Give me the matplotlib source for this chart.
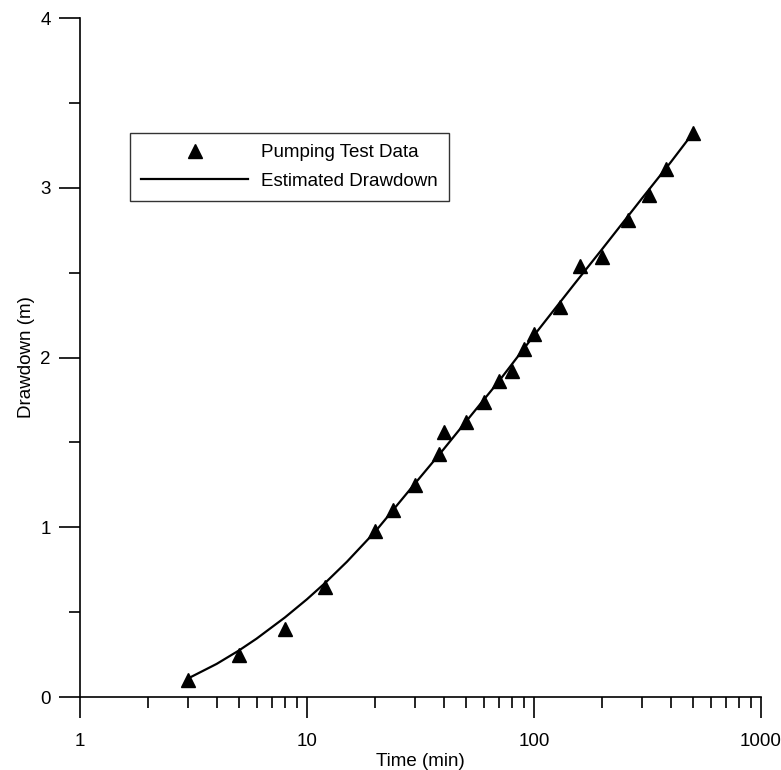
import matplotlib.pyplot as plt
from matplotlib.ticker import LogLocator, NullFormatter, FixedLocator
import numpy as np

plt.rcParams['font.family'] = ['Liberation Sans', 'DejaVu Sans']

# pumping test observations
time_obs = [3, 5, 8, 12, 20, 24, 30, 38, 40, 50, 60, 70, 80, 90, 100,
            130, 160, 200, 260, 320, 380, 500]
drawdown_obs = [0.10, 0.25, 0.40, 0.65, 0.98, 1.10, 1.25, 1.43, 1.56, 1.62,
                1.74, 1.86, 1.92, 2.05, 2.14, 2.30, 2.54, 2.59, 2.81, 2.96,
                3.11, 3.32]

# estimated drawdown curve
time_fit = [3, 4, 5, 6, 8, 10, 12, 15, 20, 30, 40, 50, 70, 100, 150,
            200, 300, 400, 500]
drawdown_fit = [0.11, 0.195, 0.273, 0.344, 0.469, 0.576, 0.671, 0.797, 0.975,
                1.26, 1.46, 1.62, 1.86, 2.13, 2.43, 2.64, 2.94, 3.15, 3.32]

fig = plt.figure(figsize=(7.81, 7.70), dpi=100)
ax = fig.add_axes([0.1024, 0.0948, 0.8720, 0.8818])

ax.plot(time_fit, drawdown_fit, color='black', lw=1.6, label='Estimated Drawdown')
ax.plot(time_obs, drawdown_obs, linestyle='none', marker='^', ms=9.5,
        color='black', label='Pumping Test Data')

ax.set_xscale('log')
ax.set_xlim(1, 1000)
ax.set_ylim(0, 4)

ax.spines['top'].set_visible(False)
ax.spines['right'].set_visible(False)
for s in ['left', 'bottom']:
    ax.spines[s].set_linewidth(1.2)

ax.xaxis.set_major_locator(FixedLocator([1, 10, 100, 1000]))
ax.set_xticklabels(['1', '10', '100', '1000'])
ax.xaxis.set_minor_locator(LogLocator(base=10, subs=np.arange(2, 10)))
ax.xaxis.set_minor_formatter(NullFormatter())
ax.set_yticks([0, 1, 2, 3, 4])
ax.set_yticks([0.5, 1.5, 2.5, 3.5], minor=True)

ax.tick_params(which='major', direction='out', length=15, width=1.2,
               labelsize=13.5)
ax.tick_params(axis='x', which='major', pad=11)
ax.tick_params(axis='y', which='major', pad=6)
ax.tick_params(which='minor', direction='out', length=8, width=1.2)

ax.set_xlabel('Time (min)', fontsize=13.5, labelpad=2)
ax.set_ylabel('Drawdown (m)', fontsize=13.5, labelpad=4)

handles, labels = ax.get_legend_handles_labels()
leg = ax.legend(handles[::-1], labels[::-1], loc='upper left',
                bbox_to_anchor=(130 / 781, (770 - 133) / 770),
                bbox_transform=fig.transFigure, borderaxespad=0,
                fancybox=False, fontsize=13.5, handlelength=5.7,
                handletextpad=0.7, labelspacing=0.6, borderpad=0.6,
                numpoints=1)
leg.get_frame().set_edgecolor('black')
leg.get_frame().set_linewidth(1.0)

plt.savefig('out.png', dpi=100)
plt.close()
